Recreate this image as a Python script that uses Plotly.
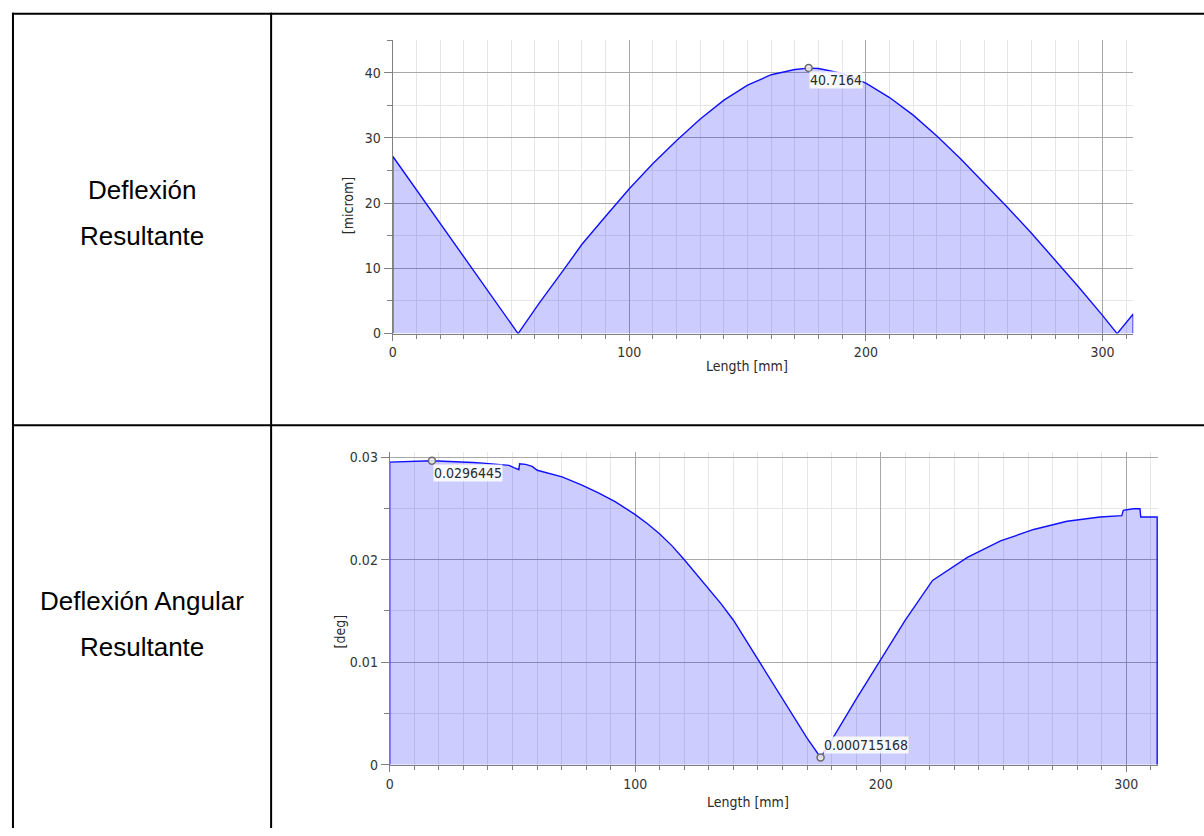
import plotly.graph_objects as go

W, H = 1204, 836

# ---------------- data ----------------
row_labels_top = ["Deflexión", "Resultante"]
row_labels_bottom = ["Deflexión Angular", "Resultante"]

defl_len = [0, 0, 53.0, 62, 72.7, 80, 90, 100, 110, 120, 130, 140, 150, 160, 170, 175.8,
            180, 190, 200, 210, 220, 230, 240, 250, 260, 270, 280, 290, 300, 306.2, 313, 313]
defl_val = [0, 27.2, 0.0, 4.7, 10.0, 13.7, 18.0, 22.2, 26.1, 29.6, 32.9, 35.8, 38.1, 39.7, 40.5, 40.7164,
            40.65, 39.9, 38.4, 36.2, 33.5, 30.3, 26.8, 23.1, 19.3, 15.4, 11.3, 7.1, 2.8, 0.0, 3.0, 0]
defl_peak_x = [175.8]
defl_peak_y = [40.7164]
defl_peak_text = ["40.7164"]

ang_len = [0, 0, 17.2, 27, 33, 34, 38, 48.6, 50.6, 52.6, 52.9, 55.3, 58.0, 60.1, 70.2, 78.3, 85, 91.8,
           100, 105, 110, 115, 120, 127, 135, 140, 150, 160, 170, 175.5,
           180, 190, 200, 210, 221.1, 235.3, 248.8, 262.3, 275.9, 289.3, 298.2, 298.8, 302.9, 305.6,
           305.9, 312.6, 312.6]
ang_val = [0, 0.02952, 0.0296445, 0.02958, 0.02955, 0.02948, 0.02942, 0.0292, 0.02897, 0.02878,
           0.02936, 0.02930, 0.02910, 0.02872, 0.02808, 0.02728, 0.02652, 0.02567,
           0.0244, 0.0235, 0.0225, 0.02135, 0.0200, 0.0180, 0.0157, 0.0141, 0.0103, 0.0064, 0.0026,
           0.000715168,
           0.0024, 0.0064, 0.0103, 0.0141, 0.01798, 0.02022, 0.02183, 0.02295, 0.02375, 0.02417,
           0.0243, 0.02481, 0.02497, 0.02497, 0.02417, 0.02417, 0]
ang_max_x = [17.2]
ang_max_y = [0.0296445]
ang_max_text = ["0.0296445"]
ang_min_x = [175.5]
ang_min_y = [0.000715168]
ang_min_text = ["0.000715168"]

x_title = "Length [mm]"
y_title_top = "[microm]"
y_title_bottom = "[deg]"

# ---------------- helpers ----------------
def px_x(p):
    return p / W

def px_y(p):
    return 1 - p / H

FONT_FAMILY = "DejaVu Sans Condensed, DejaVu Sans, sans-serif"
TICK_FONT = dict(family=FONT_FAMILY, size=14, color="#333333")
LINE_BLUE = "#1010ff"
FILL = "rgba(0,0,255,0.2)"
MAJOR_GRID = "#a8a8a8"
MINOR_GRID = "#e6e6e6"
AXIS_LINE = "#808080"

fig = go.Figure()

fig.add_trace(go.Scatter(x=defl_len, y=defl_val, mode="lines", fill="tozeroy",
                         fillcolor=FILL, line=dict(color=LINE_BLUE, width=1.4),
                         xaxis="x", yaxis="y", hoverinfo="skip", showlegend=False))
fig.add_trace(go.Scatter(x=ang_len, y=ang_val, mode="lines", fill="tozeroy",
                         fillcolor=FILL, line=dict(color=LINE_BLUE, width=1.4),
                         xaxis="x2", yaxis="y2", hoverinfo="skip", showlegend=False))

marker_style = dict(symbol="circle", size=7, color="rgba(235,235,235,0.9)",
                    line=dict(color="#6a6a6a", width=1.5))
fig.add_trace(go.Scatter(x=defl_peak_x, y=defl_peak_y, mode="markers", marker=marker_style,
                         xaxis="x", yaxis="y", hoverinfo="skip", showlegend=False))
fig.add_trace(go.Scatter(x=ang_max_x + ang_min_x, y=ang_max_y + ang_min_y, mode="markers",
                         marker=marker_style, xaxis="x2", yaxis="y2",
                         hoverinfo="skip", showlegend=False))

def xaxis_style(domain, anchor):
    return dict(domain=domain, anchor=anchor, range=[0, 313], tickvals=[0, 100, 200, 300],
                showgrid=True, gridcolor=MAJOR_GRID, gridwidth=1,
                ticks="outside", ticklen=6, tickcolor=AXIS_LINE,
                showline=True, linecolor=AXIS_LINE, linewidth=1,
                zeroline=False, tickfont=TICK_FONT,
                minor=dict(dtick=10, tick0=0, ticks="outside", ticklen=4, tickcolor=AXIS_LINE,
                           showgrid=True, gridcolor=MINOR_GRID, gridwidth=1))

def yaxis_style(domain, anchor, rng, minor_dtick, tickvals, ticktext):
    return dict(domain=domain, anchor=anchor, range=rng, tickvals=tickvals, ticktext=ticktext,
                showgrid=True, gridcolor=MAJOR_GRID, gridwidth=1,
                ticks="outside", ticklen=8, tickcolor=AXIS_LINE,
                showline=True, linecolor=AXIS_LINE, linewidth=1,
                zeroline=False, tickfont=TICK_FONT,
                minor=dict(dtick=minor_dtick, tick0=0, ticks="outside", ticklen=5,
                           tickcolor=AXIS_LINE, showgrid=True, gridcolor=MINOR_GRID, gridwidth=1))

top_dom_x = [px_x(390), px_x(1133)]
top_dom_y = [px_y(335), px_y(37)]
bot_dom_x = [px_x(387), px_x(1158)]
bot_dom_y = [px_y(772), px_y(455)]

fig.update_layout(
    width=W, height=H, margin=dict(l=0, r=0, t=0, b=0),
    paper_bgcolor="white", plot_bgcolor="white", showlegend=False,
    xaxis=xaxis_style(top_dom_x, "y"),
    yaxis=yaxis_style(top_dom_y, "x", [0, 45.1], 5, [0, 10, 20, 30, 40],
                      ["0", "10", "20", "30", "40"]),
    xaxis2=xaxis_style(bot_dom_x, "y2"),
    yaxis2=yaxis_style(bot_dom_y, "x2", [0, 0.0305], 0.005, [0, 0.01, 0.02, 0.03],
                       ["0", "0.01", "0.02", "0.03"]),
)

LABEL_FONT = dict(family=FONT_FAMILY, size=14, color="#2a2a2a")
ann = []
# value labels
ann.append(dict(x=defl_peak_x[0], y=defl_peak_y[0], xref="x", yref="y", text=defl_peak_text[0],
                showarrow=False, xanchor="left", yanchor="top", xshift=0, yshift=-3,
                bgcolor="rgba(255,255,255,0.85)", font=LABEL_FONT, borderpad=0))
ann.append(dict(x=ang_max_x[0], y=ang_max_y[0], xref="x2", yref="y2", text=ang_max_text[0],
                showarrow=False, xanchor="left", yanchor="top", xshift=1, yshift=-3,
                bgcolor="rgba(255,255,255,0.85)", font=LABEL_FONT, borderpad=0))
ann.append(dict(x=ang_min_x[0], y=ang_min_y[0], xref="x2", yref="y2", text=ang_min_text[0],
                showarrow=False, xanchor="left", yanchor="bottom", xshift=2, yshift=4,
                bgcolor="rgba(255,255,255,0.85)", font=LABEL_FONT, borderpad=0))
# axis titles
ann.append(dict(x=px_x(745), y=px_y(368), xref="paper", yref="paper", text=x_title,
                showarrow=False, xanchor="center", yanchor="middle", font=LABEL_FONT))
ann.append(dict(x=px_x(746), y=px_y(810), xref="paper", yref="paper", text=x_title,
                showarrow=False, xanchor="center", yanchor="middle", font=LABEL_FONT))
ann.append(dict(x=px_x(345), y=px_y(205), xref="paper", yref="paper", text=y_title_top,
                showarrow=False, xanchor="center", yanchor="middle", textangle=-90, font=LABEL_FONT))
ann.append(dict(x=px_x(337), y=px_y(637), xref="paper", yref="paper", text=y_title_bottom,
                showarrow=False, xanchor="center", yanchor="middle", textangle=-90, font=LABEL_FONT))
# row labels
ROW_FONT = dict(family="Liberation Sans, Arial, sans-serif", size=26, color="#000000")
for txt, yy in zip(row_labels_top, [189, 236]):
    ann.append(dict(x=px_x(138), y=px_y(yy), xref="paper", yref="paper", text=txt,
                    showarrow=False, xanchor="center", yanchor="middle", font=ROW_FONT))
for txt, yy in zip(row_labels_bottom, [606, 653]):
    ann.append(dict(x=px_x(138), y=px_y(yy), xref="paper", yref="paper", text=txt,
                    showarrow=False, xanchor="center", yanchor="middle", font=ROW_FONT))
fig.update_layout(annotations=ann)

# table borders
shapes = []
line = dict(color="black", width=2)
shapes.append(dict(type="line", xref="paper", yref="paper", x0=px_x(8), x1=1, y0=px_y(11), y1=px_y(11), line=line))
shapes.append(dict(type="line", xref="paper", yref="paper", x0=px_x(8), x1=1, y0=px_y(428), y1=px_y(428), line=line))
shapes.append(dict(type="line", xref="paper", yref="paper", x0=px_x(9), x1=px_x(9), y0=px_y(10), y1=0, line=line))
shapes.append(dict(type="line", xref="paper", yref="paper", x0=px_x(268), x1=px_x(268), y0=px_y(10), y1=0, line=line))
fig.update_layout(shapes=shapes)

fig.write_html("out.html")
